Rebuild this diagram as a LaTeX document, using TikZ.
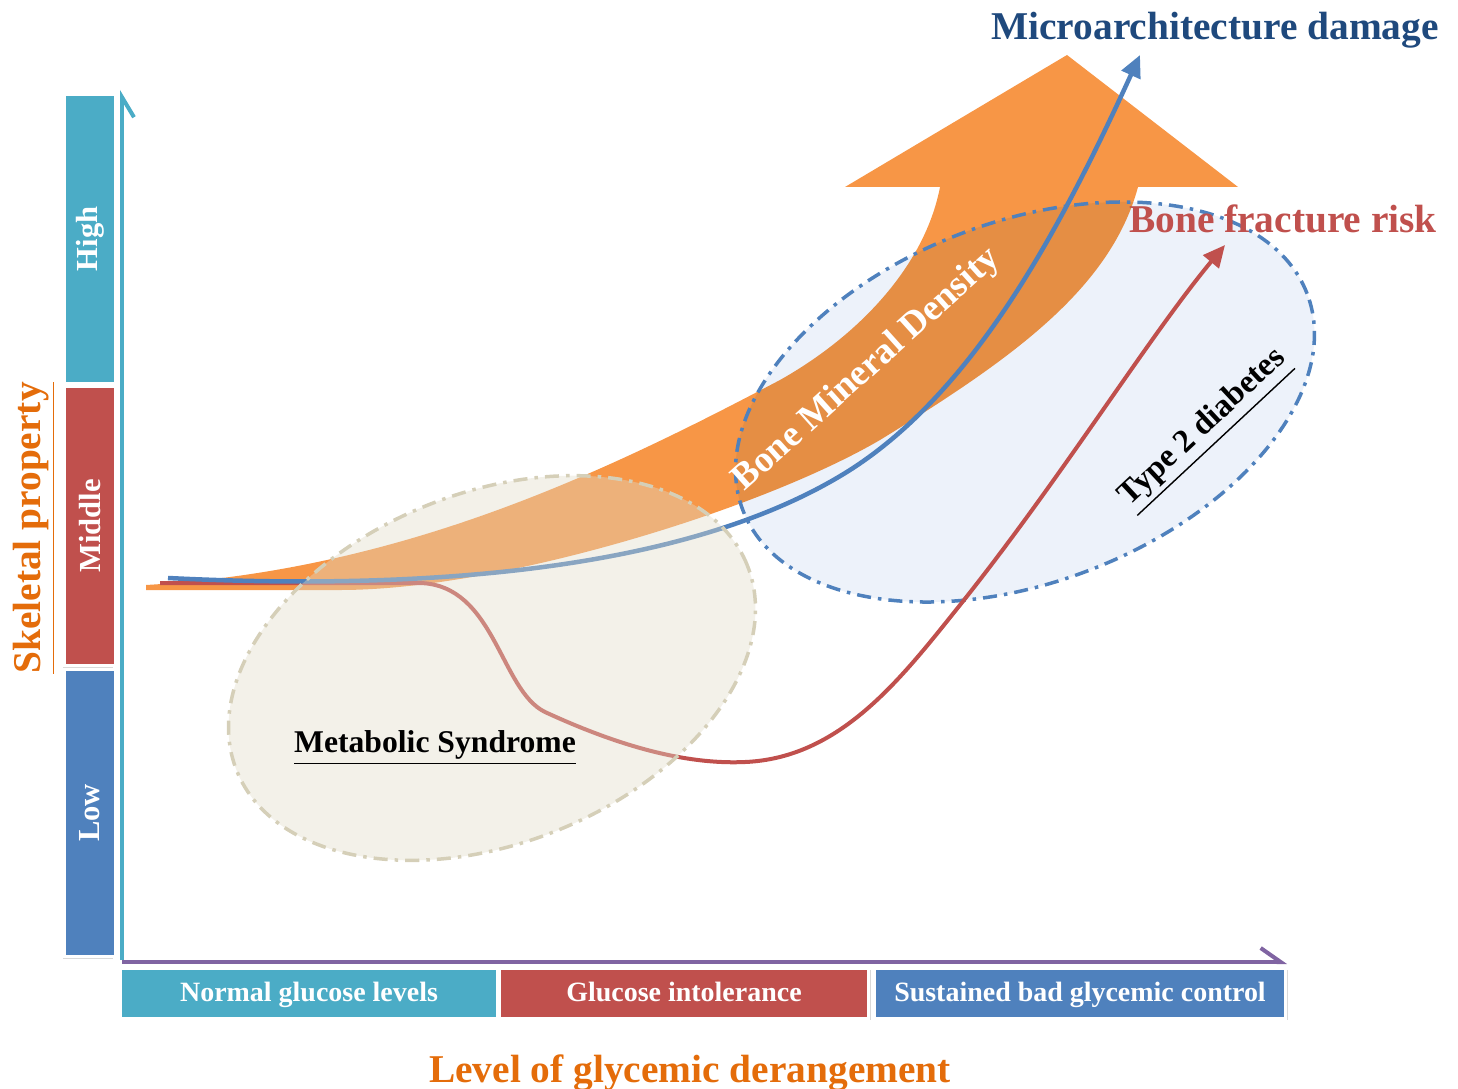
\documentclass[tikz,border=0pt]{standalone}
\usepackage{fontspec}
\setmainfont{Liberation Serif}
\usetikzlibrary{calc,shapes.geometric,shadows,arrows.meta}
\definecolor{cyanbar}{HTML}{4BACC6}
\definecolor{redbar}{HTML}{C0504D}
\definecolor{bluebar}{HTML}{4F81BD}
\definecolor{purpleaxis}{HTML}{8064A2}
\definecolor{orangeband}{HTML}{F79646}
\definecolor{orangetext}{HTML}{E46C0A}
\definecolor{navytext}{HTML}{1F497D}
\definecolor{metabfill}{HTML}{E0DBC8}
\definecolor{metabline}{HTML}{D5CFB8}
\definecolor{typefill}{HTML}{EDF2FA}
\tikzstyle{levelbar} = [rectangle, draw=white, line width=0.03cm, text=white, rotate=90, minimum height=0.5cm, inner sep=0pt, font=\bfseries\fontsize{8.7pt}{10pt}\selectfont, drop shadow={shadow xshift=-0.7pt, shadow yshift=-0.7pt, opacity=0.3}]
\tikzstyle{stagebox} = [rectangle, draw=white, line width=0.03cm, text=white, minimum height=0.5cm, inner sep=0pt, text height=1.5ex, text depth=0.45ex, font=\bfseries\fontsize{7.95pt}{9pt}\selectfont, drop shadow={shadow xshift=0.7pt, shadow yshift=-0.7pt, opacity=0.3}]
\tikzstyle{zone} = [ellipse, line width=0.035cm, dash pattern=on 4pt off 2pt on 1pt off 2pt]
\tikzstyle{title} = [font=\bfseries\fontsize{11.2pt}{13pt}\selectfont, inner sep=0pt]

\begin{document}
\begin{tikzpicture}[x=0.01cm, y=-0.01cm]
        \useasboundingbox (0,0) rectangle (1458,1088);

        % skeletal property levels
        \node (high) [levelbar, fill=cyanbar, minimum width=2.88cm] at (90,239) {High};
        \node (middle) [levelbar, fill=redbar, minimum width=2.78cm] at (90,526) {Middle};
        \node (low) [levelbar, fill=bluebar, minimum width=2.87cm] at (90,813) {Low};

        % glycemic stages
        \node (normal) [stagebox, fill=cyanbar, minimum width=3.77cm] at (309,993) {Normal glucose levels};
        \node (intol) [stagebox, fill=redbar, minimum width=3.68cm] at (684,993) {Glucose intolerance};
        \node (sustained) [stagebox, fill=bluebar, minimum width=4.1cm] at (1080,993) {Sustained bad glycemic control};

        % axes
        \coordinate (origin) at (122,962);
        \coordinate (ytop) at (122,90);
        \coordinate (xend) at (1287,962);
        \draw[cyanbar, line width=0.04cm, -{Straight Barb[right, length=0.2cm, width=0.24cm]}] ($(origin)+(0,-2)$) -- (ytop);
        \draw[purpleaxis, line width=0.04cm, -{Straight Barb[left, length=0.2cm, width=0.28cm]}] (origin) -- (xend);

        % bone mineral density band
        \fill[orangeband] (146,585) .. controls (400,570) and (600,475) .. (780,380)
            .. controls (860,335) and (925,265) .. (940,187) -- (845,187) -- (1067,55) -- (1238,187) -- (1138,187)
            .. controls (1110,290) and (1010,360) .. (880,440)
            .. controls (760,510) and (500,590) .. (340,590) -- (146,590) -- cycle;

        % type 2 diabetes zone
        \node (diab) [ellipse, fill=typefill, blend mode=multiply, minimum width=6.04cm, minimum height=3.6cm, rotate=21] at (1025,402) {};
        \node (diabrim) [zone, draw=bluebar, minimum width=6.04cm, minimum height=3.6cm, rotate=21] at (1025,402) {};

        % curves
        \coordinate (rstart) at (160,583);
        \coordinate (rtip) at (1225,245);
        \coordinate (bstart) at (168,578);
        \coordinate (btip) at (1140,55);
        \draw[redbar, line width=0.04cm, -{Triangle[length=0.22cm, width=0.2cm]}] (rstart) -- (420,583)
            .. controls (495,585) and (500,690) .. (545,712)
            .. controls (610,742) and (680,765) .. (745,762)
            .. controls (840,758) and (900,680) .. (960,605)
            .. controls (1060,480) and (1150,335) .. (rtip);
        \draw[bluebar, line width=0.045cm, -{Triangle[length=0.22cm, width=0.2cm]}] (bstart)
            .. controls (450,592) and (700,565) .. (850,470)
            .. controls (975,390) and (1060,230) .. (btip);

        % metabolic syndrome zone
        \node (metsyn) [zone, draw=metabline, fill=metabfill, fill opacity=0.4, minimum width=5.5cm, minimum height=3.5cm, rotate=22] at (492,668) {};

        % labels
        \node (micro) [title, text=navytext, anchor=base] at (1215,40) {Microarchitecture damage};
        \node (fracture) [title, text=redbar, anchor=base] at (1283,232) {Bone fracture risk};
        \node (bmd) [text=white, rotate=42, inner sep=0pt, font=\bfseries\fontsize{10.5pt}{12pt}\selectfont] at (867,370) {Bone Mineral Density};
        \node (t2d) [rotate=43, inner sep=0pt, font=\bfseries\fontsize{9.3pt}{11pt}\selectfont] at (1205,430) {\underline{Type 2 diabetes}};
        \node (mslabel) [anchor=base, inner sep=0pt, font=\bfseries\fontsize{9pt}{11pt}\selectfont] at (435,752) {\underline{Metabolic Syndrome}};
        \node (yname) [title, text=orangetext, rotate=90, anchor=base] at (40,528) {\underline{Skeletal property}};
        \node (xname) [title, text=orangetext, anchor=base] at (690,1082) {\underline{Level of glycemic derangement}};

    \end{tikzpicture}
\end{document}
